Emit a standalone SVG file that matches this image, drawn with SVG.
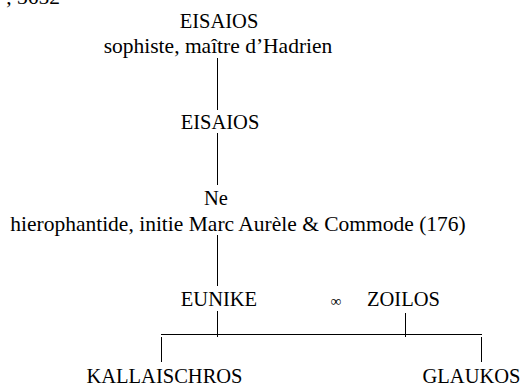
<svg xmlns="http://www.w3.org/2000/svg" width="526" height="385" viewBox="0 0 526 385" font-family="'Liberation Serif', 'Times New Roman', 'DejaVu Serif', serif">
<style>
  text { font-family: "Liberation Serif", "Times New Roman", "DejaVu Serif", serif; fill: #000; }
  .name { font-size: 20.5px; text-anchor: middle; }
  .desc { font-size: 21.5px; text-anchor: middle; }
  .conn line { stroke: #000; stroke-width: 1; }
</style>
<rect width="526" height="385" fill="#fff"/>
<text x="60" y="4" font-size="21.5" text-anchor="end" font-family="Liberation Serif, serif">, 3652</text>
<g class="conn" id="connectors">
  <line x1="217.5" y1="58" x2="217.5" y2="110"/>
  <line x1="217.5" y1="133" x2="217.5" y2="185"/>
  <line x1="217.5" y1="235" x2="217.5" y2="286"/>
  <line x1="217.5" y1="311" x2="217.5" y2="337"/>
  <line x1="405.5" y1="313" x2="405.5" y2="337"/>
  <line x1="161" y1="334.5" x2="482" y2="334.5"/>
  <line x1="161.5" y1="337" x2="161.5" y2="362"/>
  <line x1="481.5" y1="337" x2="481.5" y2="362"/>
</g>
<g id="eisaios1">
  <text class="name" x="219" y="28">EISAIOS</text>
  <text class="desc" x="218" y="53">sophiste, maître d’Hadrien</text>
</g>
<g id="eisaios2">
  <text class="name" x="220" y="129">EISAIOS</text>
</g>
<g id="ne">
  <text class="name" x="216" y="205">Ne</text>
  <text class="desc" x="238" y="231">hierophantide, initie Marc Aurèle &amp; Commode (176)</text>
</g>
<g id="eunike">
  <text class="name" x="219" y="306">EUNIKE</text>
</g>
<g id="marriage">
  <text x="336" y="306" font-size="15" text-anchor="middle">∞</text>
</g>
<g id="zoilos">
  <text class="name" x="403.5" y="306">ZOILOS</text>
</g>
<g id="kallaischros">
  <text class="name" x="164.5" y="382.5">KALLAISCHROS</text>
</g>
<g id="glaukos">
  <text class="name" x="471.5" y="382.5">GLAUKOS</text>
</g>
</svg>
